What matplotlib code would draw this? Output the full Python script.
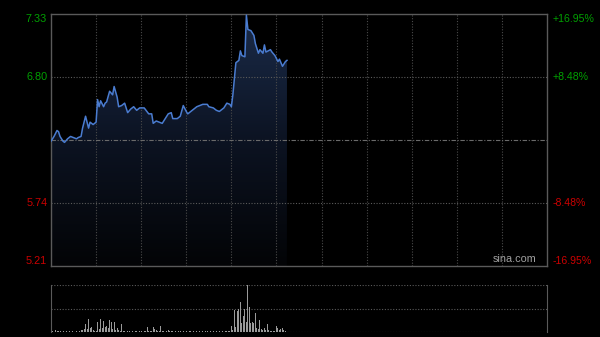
import numpy as np
import matplotlib.pyplot as plt
from matplotlib.colors import LinearSegmentedColormap

# intraday data (minutes from open, HK session = 330 min)
prev_close = 6.27
price_min = [0, 2, 4, 5, 6, 8, 9, 11, 13, 15, 17, 18, 20, 21, 23, 25, 26, 28, 30,
             31, 32, 33, 35, 36, 37, 39, 41, 42, 44, 45, 47, 49, 51, 53, 55, 57, 59,
             62, 65, 67, 68, 70, 72, 74, 76, 78, 80, 81, 84, 86, 88, 90, 91, 94, 97,
             99, 101, 104, 105, 108, 110, 112, 115, 117, 119, 120, 121, 123, 125,
             126, 127, 129, 130, 131, 133, 135, 136, 138, 139, 141, 142, 143, 146,
             147, 149, 151, 152, 154, 156, 157]
price = [6.26, 6.30, 6.35, 6.34, 6.30, 6.26, 6.25, 6.28, 6.30, 6.29, 6.28, 6.29, 6.30,
         6.37, 6.47, 6.37, 6.42, 6.40, 6.42, 6.61, 6.55, 6.60, 6.55, 6.58, 6.59, 6.68,
         6.65, 6.72, 6.63, 6.55, 6.56, 6.58, 6.50, 6.53, 6.55, 6.52, 6.54, 6.54, 6.49,
         6.49, 6.41, 6.43, 6.42, 6.41, 6.45, 6.49, 6.50, 6.45, 6.45, 6.47, 6.56, 6.51,
         6.49, 6.52, 6.55, 6.56, 6.57, 6.57, 6.55, 6.54, 6.52, 6.51, 6.54, 6.58, 6.57,
         6.55, 6.65, 6.92, 6.94, 7.02, 6.98, 6.97, 7.32, 7.20, 7.19, 7.15, 7.08, 7.00,
         7.03, 7.00, 7.07, 7.01, 7.03, 7.01, 6.98, 6.93, 6.95, 6.89, 6.93, 6.94]

volume = [4, 3, 6, 5, 3, 2, 2, 1, 2, 1, 2, 1, 2, 1, 2, 1, 1, 2, 1, 2,
          4, 5, 6, 18, 6, 27, 8, 10, 4, 3, 2, 22, 7, 27, 8, 23, 10, 13, 8, 26,
          22, 6, 22, 5, 8, 4, 3, 16, 3, 2, 1, 2, 3, 1, 2, 1, 2, 3, 1, 2,
          2, 1, 3, 2, 11, 2, 3, 2, 10, 6, 4, 2, 3, 13, 3, 2, 1, 2, 4, 2,
          3, 2, 1, 2, 1, 3, 2, 1, 2, 1, 2, 1, 2, 3, 1, 2, 1, 2, 1, 2,
          1, 2, 1, 3, 2, 1, 2, 1, 2, 1, 2, 1, 2, 1, 2, 1, 3, 2, 2, 2,
          13, 4, 47, 10, 45, 48, 63, 20, 33, 48, 21, 100, 53, 20, 21, 20, 40, 9, 6, 26,
          6, 5, 8, 4, 17, 4, 3, 2, 3, 2, 13, 8, 5, 6, 9, 5, 3]

left_ticks = [5.21, 5.74, 6.80, 7.33]
left_labels = ["5.21", "5.74", "6.80", "7.33"]
right_labels = ["-16.95%", "-8.48%", "+8.48%", "+16.95%"]
tick_colors = ["#cc0000", "#cc0000", "#00a000", "#00a000"]

W, H = 600, 337
fig = plt.figure(figsize=(6, 3.37), dpi=100, facecolor="black")
plt.rcParams['font.family'] = ['Liberation Sans', 'DejaVu Sans']

ax = fig.add_axes([51 / W, 1 - 266 / H, 496 / W, 252 / H])
ax.set_facecolor("black")
ax.set_xlim(0, 330)
ax.set_ylim(5.21, 7.33)

# gradient under the price line
cmap = LinearSegmentedColormap.from_list("fill", ["#030406", "#0c1322", "#1b2c4a"])
poly = ax.fill_between(price_min, price, 5.21, facecolor="none", edgecolor="none")
grad = np.linspace(0, 1, 256).reshape(-1, 1)
im = ax.imshow(grad, aspect="auto", cmap=cmap, origin="lower",
               extent=[0, 330, 5.21, 7.33], zorder=1)
im.set_clip_path(poly.get_paths()[0], transform=ax.transData)

# grid
for m in range(30, 330, 30):
    ax.axvline(m, color="#4a4a4a", lw=0.8, ls=(0, (1, 1.5)), zorder=2)
for v in [5.74, 6.80]:
    ax.axhline(v, color="#5a5a5a", lw=0.8, ls=(0, (1, 1.5)), zorder=2)
ax.axhline(prev_close, color="#6a6a6a", lw=0.8, ls=(0, (4, 1.5, 1, 1.5)), zorder=2)

ax.plot(price_min, price, color="#4a7cd0", lw=1.1, zorder=3)

for s in ax.spines.values():
    s.set_color("#5a5a5a")
    s.set_linewidth(1)
ax.set_xticks([])
ax.set_yticks([])

for i, v in enumerate(left_ticks):
    yy = v
    if i == 0:
        yy = v + 0.04
    if i == 3:
        yy = v - 0.04
    ax.text(-2.5, yy, left_labels[i], color=tick_colors[i], fontsize=7.8,
            ha="right", va="center")
    ax.text(333.5, yy, right_labels[i], color=tick_colors[i], fontsize=7.6,
            ha="left", va="center")

ax.text(323, 5.225, "sina.com", color="#a0a0a0", fontsize=7.8, ha="right", va="bottom")

# volume panel
vax = fig.add_axes([51 / W, 1 - 332 / H, 496 / W, 47 / H])
vax.set_facecolor("black")
vax.set_xlim(0, 330)
vax.set_ylim(0, 100)
vax.bar(np.arange(len(volume)), volume, width=0.65, color="#9a9a9a", zorder=3)
for v in [0, 50, 100]:
    vax.axhline(v, color="#5a5a5a", lw=0.8, ls=(0, (1, 1.5)), zorder=2)
vax.spines["top"].set_visible(False)
vax.spines["bottom"].set_visible(False)
for k in ["left", "right"]:
    vax.spines[k].set_color("#5a5a5a")
vax.set_xticks([])
vax.set_yticks([])

fig.savefig("out.png", dpi=100, facecolor="black")
